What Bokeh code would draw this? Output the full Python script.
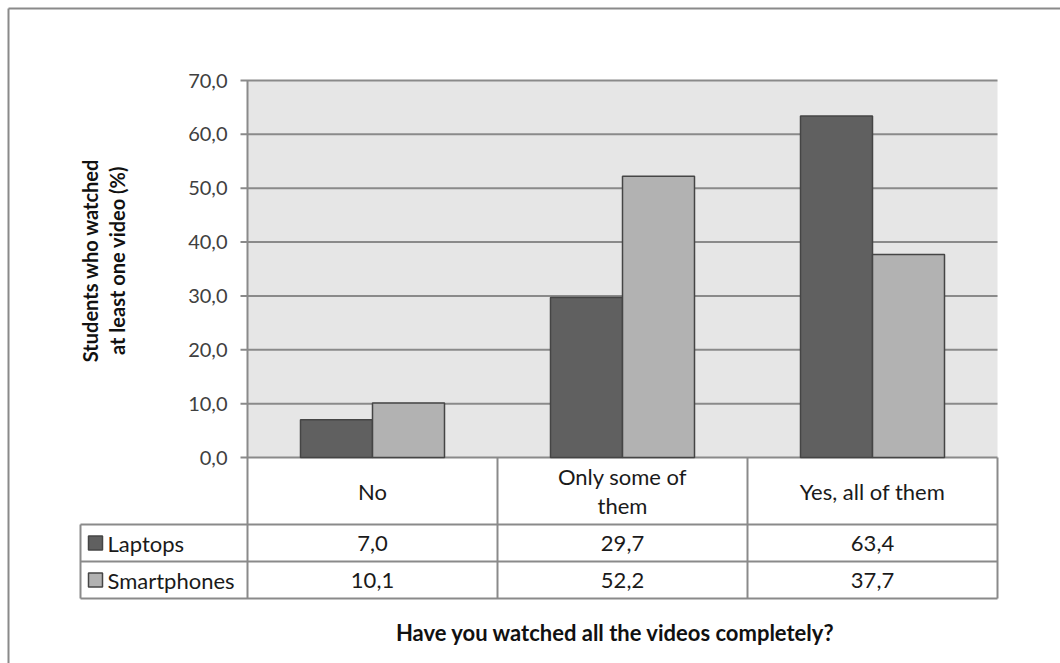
import math
from bokeh.plotting import figure
from bokeh.models import Range1d, ColumnDataSource
from bokeh.core.properties import value
from bokeh.embed import file_html
from bokeh.resources import INLINE

# ---- data -------------------------------------------------------------
categories = ["No", "Only some of\nthem", "Yes, all of them"]
laptops = [7.0, 29.7, 63.4]
smartphones = [10.1, 52.2, 37.7]
series_names = ["Laptops", "Smartphones"]
y_ticks = [0, 10, 20, 30, 40, 50, 60, 70]
y_tick_labels = ["0,0", "10,0", "20,0", "30,0", "40,0", "50,0", "60,0", "70,0"]
x_title = "Have you watched all the videos completely?"
y_title_lines = ["Students who watched", "at least one video (%)"]

# ---- layout (canvas pixels) -------------------------------------------
W, H = 1060, 663
PLOT_LEFT, PLOT_TOP, PLOT_BOTTOM = 247, 80, 457
GROUP_W = 250
Y_MAX = 70
PX_PER_UNIT = (PLOT_BOTTOM - PLOT_TOP) / Y_MAX
ROW_HEAD_BOTTOM, ROW1_BOTTOM, ROW2_BOTTOM = 524, 561, 598
TABLE_LEFT = 80
TICK_LEN = 7
BAR_W = 0.288

FONT = value("Lato")
GRID = "#8a8a8a"


def xd(px):
    """canvas x pixel -> data x (one unit per category group)"""
    return (px - PLOT_LEFT) / GROUP_W


def yd(px):
    """canvas y pixel -> data y (percent)"""
    return (PLOT_BOTTOM - px) / PX_PER_UNIT


n = len(categories)

p = figure(width=W, height=H, output_backend="svg", toolbar_location=None,
           x_range=Range1d(xd(0), xd(W)), y_range=Range1d(yd(H), yd(0)),
           x_axis_type=None, y_axis_type=None, min_border=0)
p.outline_line_color = None
p.xgrid.visible = False
p.ygrid.visible = False
p.background_fill_color = "white"
p.border_fill_color = "white"

# outer chart frame (top and left edges visible)
p.segment(x0=[xd(8), xd(8)], y0=[yd(8), yd(8)], x1=[xd(W + 5), xd(8)], y1=[yd(8), yd(H + 5)],
          line_color="#8a8a8a", line_width=2)

# plot area background
p.quad(left=[0], right=[n], bottom=[0], top=[Y_MAX], fill_color="#e6e6e6", line_color=None)

# gridlines + tick marks
p.segment(x0=[xd(PLOT_LEFT - TICK_LEN)] * len(y_ticks), x1=[n] * len(y_ticks),
          y0=y_ticks, y1=y_ticks, line_color=GRID, line_width=2)
# value axis line
p.segment(x0=[0], x1=[0], y0=[0], y1=[Y_MAX], line_color=GRID, line_width=2)

# tick labels
p.text(x=[xd(227)] * len(y_ticks), y=y_ticks, text=y_tick_labels,
       text_font=FONT, text_font_size=value("20px"), text_color="#404040",
       text_align="right", text_baseline="middle")

# bars
centers = [i + 0.5 for i in range(n)]
src = ColumnDataSource(dict(
    lx=[c - BAR_W / 2 for c in centers], sx=[c + BAR_W / 2 for c in centers],
    lap=laptops, sm=smartphones))
p.vbar(x="lx", top="lap", bottom=0, width=BAR_W, source=src,
       fill_color="#606060", line_color="#454545", line_width=1.5)
p.vbar(x="sx", top="sm", bottom=0, width=BAR_W, source=src,
       fill_color="#b2b2b2", line_color="#454545", line_width=1.5)

# ---- data table below the plot ------------------------------------------
# horizontal rules
p.segment(x0=[xd(TABLE_LEFT)] * 3, x1=[n] * 3,
          y0=[yd(ROW_HEAD_BOTTOM), yd(ROW1_BOTTOM), yd(ROW2_BOTTOM)],
          y1=[yd(ROW_HEAD_BOTTOM), yd(ROW1_BOTTOM), yd(ROW2_BOTTOM)],
          line_color=GRID, line_width=2)
# vertical rules
vx = [xd(TABLE_LEFT)] + list(range(n + 1))
vy0 = [yd(ROW_HEAD_BOTTOM)] + [0] * (n + 1)
p.segment(x0=vx, x1=vx, y0=vy0, y1=[yd(ROW2_BOTTOM)] * len(vx),
          line_color=GRID, line_width=2)

# category header
p.text(x=centers, y=[yd((PLOT_BOTTOM + ROW_HEAD_BOTTOM) / 2)] * n, text=categories,
       text_font=FONT, text_font_size=value("22px"), text_color="#1a1a1a",
       text_align="center", text_baseline="middle", text_line_height=1.1)

# series rows
row_y = [yd((ROW_HEAD_BOTTOM + ROW1_BOTTOM) / 2), yd((ROW1_BOTTOM + ROW2_BOTTOM) / 2)]
for vals, ry in zip([laptops, smartphones], row_y):
    p.text(x=centers, y=[ry] * n, text=[f"{v:.1f}".replace(".", ",") for v in vals],
           text_font=FONT, text_font_size=value("22px"), text_color="#1a1a1a",
           text_align="center", text_baseline="middle")

# legend keys + series names
KEY = 14
key_cx = xd(TABLE_LEFT + 8 + KEY / 2)
p.rect(x=[key_cx, key_cx], y=row_y, width=KEY / GROUP_W, height=KEY / PX_PER_UNIT,
       fill_color=["#606060", "#b2b2b2"], line_color="#454545", line_width=1.5)
p.text(x=[xd(TABLE_LEFT + 27)] * 2, y=row_y, text=series_names,
       text_font=FONT, text_font_size=value("22px"), text_color="#1a1a1a",
       text_align="left", text_baseline="middle")

# axis titles
p.text(x=[xd(615)], y=[yd(632)], text=[x_title], text_font=FONT,
       text_font_size=value("22px"), text_font_style="bold", text_color="#111111",
       text_align="center", text_baseline="middle")
p.text(x=[xd(89), xd(116)], y=[yd(260)] * 2, text=y_title_lines, angle=math.pi / 2,
       text_font=FONT, text_font_size=value("20px"), text_font_style="bold",
       text_color="#111111", text_align="center", text_baseline="middle")

open("out.html", "w").write(file_html(p, INLINE))
